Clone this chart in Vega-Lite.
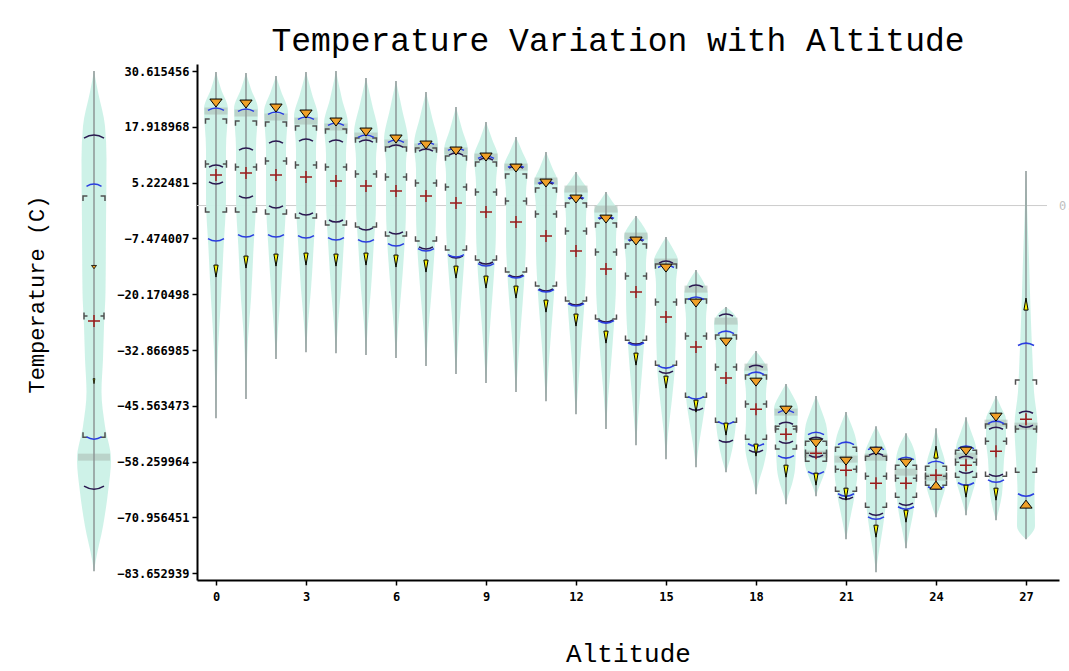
{
"$schema":"https://vega.github.io/schema/vega-lite/v6.json",
"background":"white",
"padding":{"left":25,"top":25,"right":0,"bottom":12},
"autosize":{"type":"pad"},
"spacing":2,
"config":{
 "view":{"stroke":null},
 "axis":{"labelFont":"DejaVu Sans Mono","labelFontSize":12,"labelFontWeight":"bold","labelColor":"#000","tickColor":"#000","domainColor":"#000","domainWidth":2,"tickWidth":1.5,"tickSize":5,"grid":false,"titleFont":"Liberation Mono","titleFontWeight":"normal","titleColor":"#000"}
},
"datasets":{
"stats":[
{"alt":0,"max":30.39,"min":-48.37,"orange":23.33,"blueU":22.19,"q3":19.69,"med":9.45,"mean":6.94,"q1":-1.48,"blueL":-8.08,"yellow":-14.91,"purU":9.22,"purL":4.89,"band":21.51,"skew":"neg"},
{"alt":1,"max":30.16,"min":-44.04,"orange":23.10,"blueU":21.97,"q3":19.23,"med":8.76,"mean":7.40,"q1":-1.48,"blueL":-7.17,"yellow":-12.86,"purU":13.09,"purL":1.71,"band":21.06,"skew":"neg"},
{"alt":2,"max":29.48,"min":-34.94,"orange":22.19,"blueU":21.28,"q3":19.01,"med":10.13,"mean":6.94,"q1":-1.94,"blueL":-7.17,"yellow":-12.41,"purU":14.68,"purL":-0.57,"band":20.14,"skew":"neg"},
{"alt":3,"max":30.39,"min":-33.35,"orange":20.83,"blueU":20.14,"q3":18.10,"med":9.22,"mean":6.49,"q1":-2.85,"blueL":-7.40,"yellow":-12.18,"purU":15.14,"purL":-2.16,"band":19.23,"skew":"neg"},
{"alt":4,"max":30.62,"min":-33.58,"orange":19.01,"blueU":18.78,"q3":17.41,"med":8.76,"mean":5.58,"q1":-4.44,"blueL":-7.85,"yellow":-12.41,"purU":14.91,"purL":-3.76,"band":17.87,"skew":"neg"},
{"alt":5,"max":29.02,"min":-34.03,"orange":16.73,"blueU":16.05,"q3":15.37,"med":7.17,"mean":4.44,"q1":-4.90,"blueL":-8.31,"yellow":-12.18,"purU":14.91,"purL":-5.58,"band":15.82,"skew":"neg"},
{"alt":6,"max":28.34,"min":-34.71,"orange":15.14,"blueU":14.91,"q3":13.32,"med":6.49,"mean":3.30,"q1":-6.94,"blueL":-9.22,"yellow":-12.63,"purU":13.77,"purL":-6.49,"band":14.23,"skew":"neg"},
{"alt":7,"max":25.83,"min":-36.53,"orange":13.77,"blueU":14.45,"q3":13.09,"med":5.12,"mean":2.16,"q1":-8.08,"blueL":-10.36,"yellow":-13.77,"purU":12.86,"purL":-9.90,"band":13.32,"skew":"neg"},
{"alt":8,"max":22.42,"min":-38.35,"orange":12.41,"blueU":13.09,"q3":11.27,"med":4.21,"mean":0.57,"q1":-10.13,"blueL":-11.72,"yellow":-15.14,"purU":11.95,"purL":-11.95,"band":12.41,"skew":"neg"},
{"alt":9,"max":19.01,"min":-40.40,"orange":11.04,"blueU":11.27,"q3":9.90,"med":3.07,"mean":-1.48,"q1":-12.41,"blueL":-13.77,"yellow":-17.41,"purU":10.81,"purL":-13.32,"band":11.04,"skew":"neg"},
{"alt":10,"max":15.59,"min":-42.45,"orange":8.53,"blueU":9.22,"q3":7.17,"med":1.02,"mean":-3.76,"q1":-15.14,"blueL":-16.50,"yellow":-19.69,"purU":8.99,"purL":-16.28,"band":8.76,"skew":"neg"},
{"alt":11,"max":12.18,"min":-44.50,"orange":5.12,"blueU":5.58,"q3":3.98,"med":-1.94,"mean":-6.94,"q1":-18.33,"blueL":-19.69,"yellow":-22.88,"purU":5.35,"purL":-19.46,"band":5.58,"skew":"neg"},
{"alt":12,"max":7.62,"min":-47.46,"orange":1.48,"blueU":2.16,"q3":0.57,"med":-5.81,"mean":-10.36,"q1":-21.74,"blueL":-22.88,"yellow":-26.06,"purU":1.93,"purL":-22.65,"band":3.75,"skew":"neg"},
{"alt":13,"max":3.07,"min":-50.87,"orange":-3.08,"blueU":-2.39,"q3":-3.98,"med":-10.59,"mean":-14.46,"q1":-25.84,"blueL":-26.75,"yellow":-29.93,"purU":-2.62,"purL":-26.52,"band":-0.80,"skew":"neg"},
{"alt":14,"max":-2.39,"min":-54.52,"orange":-8.08,"blueU":-7.40,"q3":-8.77,"med":-16.05,"mean":-19.69,"q1":-30.62,"blueL":-31.76,"yellow":-34.94,"purU":-7.63,"purL":-31.53,"band":-6.94,"skew":"neg"},
{"alt":15,"max":-7.17,"min":-57.70,"orange":-14.23,"blueU":-13.55,"q3":-13.32,"med":-21.97,"mean":-25.38,"q1":-36.31,"blueL":-36.99,"yellow":-40.18,"purU":-12.63,"purL":-38.13,"band":-12.86,"skew":"neg"},
{"alt":16,"max":-14.68,"min":-59.53,"orange":-22.19,"blueU":-20.83,"q3":-21.28,"med":-29.70,"mean":-32.21,"q1":-43.59,"blueL":-44.04,"yellow":-45.64,"purU":-18.10,"purL":-46.55,"band":-19.01,"skew":"neg"},
{"alt":17,"max":-23.10,"min":-60.66,"orange":-31.07,"blueU":-28.57,"q3":-29.48,"med":-36.76,"mean":-39.26,"q1":-49.28,"blueL":-49.73,"yellow":-50.87,"purU":-24.70,"purL":-53.83,"band":-26.29,"skew":"neg"},
{"alt":18,"max":-33.12,"min":-65.67,"orange":-40.18,"blueU":-37.90,"q3":-38.58,"med":-45.18,"mean":-46.32,"q1":-53.15,"blueL":-54.74,"yellow":-55.65,"purU":-36.31,"purL":-56.11,"band":-36.76,"skew":"neg"},
{"alt":19,"max":-40.63,"min":-67.94,"orange":-46.55,"blueU":-46.55,"q3":-50.19,"med":-50.87,"mean":-52.01,"q1":-55.42,"blueL":-57.47,"yellow":-60.44,"purU":-49.28,"purL":-54.06,"band":-47.00,"skew":"neg"},
{"alt":20,"max":-43.36,"min":-66.12,"orange":-54.06,"blueU":-51.56,"q3":-53.61,"med":-56.34,"mean":-56.34,"q1":-58.16,"blueL":-61.11,"yellow":-62.25,"purU":-52.70,"purL":-57.25,"band":-56.56,"skew":"neg"},
{"alt":21,"max":-47.00,"min":-75.91,"orange":-58.16,"blueU":-53.83,"q3":-54.98,"med":-59.98,"mean":-60.21,"q1":-64.99,"blueL":-66.12,"yellow":-65.67,"purU":null,"purL":-66.80,"band":-57.70,"skew":"neg"},
{"alt":22,"max":-50.19,"min":-83.43,"orange":-55.88,"blueU":-54.98,"q3":-57.02,"med":-61.57,"mean":-63.17,"q1":-68.63,"blueL":-71.36,"yellow":-74.09,"purU":-56.34,"purL":-70.45,"band":-57.25,"skew":"neg"},
{"alt":23,"max":-51.79,"min":-77.96,"orange":-58.61,"blueU":-57.25,"q3":-59.07,"med":-62.03,"mean":-63.17,"q1":-66.35,"blueL":-69.08,"yellow":-70.68,"purU":null,"purL":-68.17,"band":-60.66,"skew":"neg"},
{"alt":24,"max":-50.65,"min":-70.90,"orange":-63.62,"blueU":-58.16,"q3":-59.30,"med":-61.57,"mean":-61.34,"q1":-63.62,"blueL":-64.53,"yellow":-56.11,"purU":null,"purL":null,"band":-61.80,"skew":"pos"},
{"alt":25,"max":-48.14,"min":-70.45,"orange":-55.88,"blueU":-54.74,"q3":-55.65,"med":-58.39,"mean":-59.07,"q1":-61.80,"blueL":-63.62,"yellow":-64.99,"purU":-57.02,"purL":-60.89,"band":-57.02,"skew":"neg"},
{"alt":26,"max":-43.36,"min":-71.59,"orange":-48.14,"blueU":-49.05,"q3":-49.73,"med":-53.61,"mean":-55.88,"q1":-61.57,"blueL":-62.94,"yellow":-65.67,"purU":-50.42,"purL":-61.57,"band":-49.51,"skew":"neg"},
{"alt":27,"max":7.85,"min":-75.91,"orange":-67.94,"blueU":-31.30,"q3":-39.72,"med":-50.87,"mean":-48.60,"q1":-60.66,"blueL":-66.12,"yellow":-22.42,"purU":-46.78,"purL":-50.42,"band":-50.19,"skew":"pos"}
],
"overall":[
{"max":30.62,"min":-83.20,"orange":-14.00,"blueU":4.89,"q3":2.16,"med":-25.15,"mean":-26.29,"q1":-52.70,"blueL":-53.15,"yellow":-39.95,"purU":16.05,"purL":-64.53,"band":-57.25}
],
"overallViolin":[
{"t":30.62,"lo":0,"hi":0},{"t":25.83,"lo":-0.2,"hi":0.2},{"t":18.10,"lo":-0.55,"hi":0.55},{"t":10.58,"lo":-0.625,"hi":0.625},{"t":-4.67,"lo":-0.6,"hi":0.6},{"t":-19.69,"lo":-0.575,"hi":0.575},{"t":-27.43,"lo":-0.5,"hi":0.5},{"t":-34.94,"lo":-0.45,"hi":0.45},{"t":-42.45,"lo":-0.375,"hi":0.375},{"t":-50.19,"lo":-0.55,"hi":0.55},{"t":-57.70,"lo":-0.85,"hi":0.85},{"t":-65.21,"lo":-0.7,"hi":0.7},{"t":-72.95,"lo":-0.45,"hi":0.45},{"t":-80.46,"lo":-0.1,"hi":0.1},{"t":-83.20,"lo":0,"hi":0}
],
"violin":[
{"a":0,"t":30.39,"lo":0,"hi":0},{"a":0,"t":26.52,"lo":-0.167,"hi":0.167},{"a":0,"t":21.97,"lo":-0.4,"hi":0.4},{"a":0,"t":12.86,"lo":-0.333,"hi":0.333},{"a":0,"t":1.48,"lo":-0.333,"hi":0.333},{"a":0,"t":-9.90,"lo":-0.25,"hi":0.25},{"a":0,"t":-21.28,"lo":-0.167,"hi":0.167},{"a":0,"t":-32.66,"lo":-0.067,"hi":0.067},{"a":0,"t":-48.37,"lo":0,"hi":0},
{"a":1,"t":30.16,"lo":1,"hi":1},{"a":1,"t":26.52,"lo":0.833,"hi":1.167},{"a":1,"t":21.97,"lo":0.6,"hi":1.4},{"a":1,"t":12.86,"lo":0.667,"hi":1.333},{"a":1,"t":1.48,"lo":0.667,"hi":1.333},{"a":1,"t":-9.90,"lo":0.75,"hi":1.25},{"a":1,"t":-21.28,"lo":0.833,"hi":1.167},{"a":1,"t":-30.39,"lo":0.933,"hi":1.067},{"a":1,"t":-44.04,"lo":1,"hi":1},
{"a":2,"t":29.48,"lo":2,"hi":2},{"a":2,"t":26.06,"lo":1.833,"hi":2.167},{"a":2,"t":21.28,"lo":1.6,"hi":2.4},{"a":2,"t":12.86,"lo":1.667,"hi":2.333},{"a":2,"t":1.48,"lo":1.667,"hi":2.333},{"a":2,"t":-9.90,"lo":1.75,"hi":2.25},{"a":2,"t":-19.01,"lo":1.833,"hi":2.167},{"a":2,"t":-28.11,"lo":1.933,"hi":2.067},{"a":2,"t":-34.94,"lo":2,"hi":2},
{"a":3,"t":30.39,"lo":3,"hi":3},{"a":3,"t":25.38,"lo":2.8,"hi":3.2},{"a":3,"t":20.14,"lo":2.6,"hi":3.4},{"a":3,"t":12.86,"lo":2.667,"hi":3.333},{"a":3,"t":1.48,"lo":2.667,"hi":3.333},{"a":3,"t":-9.90,"lo":2.75,"hi":3.25},{"a":3,"t":-19.01,"lo":2.833,"hi":3.167},{"a":3,"t":-26.97,"lo":2.933,"hi":3.067},{"a":3,"t":-33.35,"lo":3,"hi":3},
{"a":4,"t":30.62,"lo":4,"hi":4},{"a":4,"t":24.24,"lo":3.8,"hi":4.2},{"a":4,"t":18.55,"lo":3.6,"hi":4.4},{"a":4,"t":11.72,"lo":3.667,"hi":4.333},{"a":4,"t":1.48,"lo":3.667,"hi":4.333},{"a":4,"t":-9.90,"lo":3.75,"hi":4.25},{"a":4,"t":-19.01,"lo":3.833,"hi":4.167},{"a":4,"t":-26.97,"lo":3.933,"hi":4.067},{"a":4,"t":-33.58,"lo":4,"hi":4},
{"a":5,"t":29.02,"lo":5,"hi":5},{"a":5,"t":23.10,"lo":4.8,"hi":5.2},{"a":5,"t":16.28,"lo":4.6,"hi":5.4},{"a":5,"t":10.58,"lo":4.667,"hi":5.333},{"a":5,"t":0.34,"lo":4.667,"hi":5.333},{"a":5,"t":-9.90,"lo":4.75,"hi":5.25},{"a":5,"t":-19.01,"lo":4.833,"hi":5.167},{"a":5,"t":-26.97,"lo":4.933,"hi":5.067},{"a":5,"t":-34.03,"lo":5,"hi":5},
{"a":6,"t":28.34,"lo":6,"hi":6},{"a":6,"t":21.97,"lo":5.8,"hi":6.2},{"a":6,"t":14.68,"lo":5.6,"hi":6.4},{"a":6,"t":9.45,"lo":5.667,"hi":6.333},{"a":6,"t":-0.80,"lo":5.667,"hi":6.333},{"a":6,"t":-11.04,"lo":5.733,"hi":6.267},{"a":6,"t":-20.15,"lo":5.833,"hi":6.167},{"a":6,"t":-28.11,"lo":5.933,"hi":6.067},{"a":6,"t":-34.71,"lo":6,"hi":6},
{"a":7,"t":25.83,"lo":7,"hi":7},{"a":7,"t":20.14,"lo":6.8,"hi":7.2},{"a":7,"t":13.77,"lo":6.6,"hi":7.4},{"a":7,"t":8.31,"lo":6.667,"hi":7.333},{"a":7,"t":-1.94,"lo":6.667,"hi":7.333},{"a":7,"t":-12.18,"lo":6.733,"hi":7.267},{"a":7,"t":-21.28,"lo":6.833,"hi":7.167},{"a":7,"t":-29.25,"lo":6.933,"hi":7.067},{"a":7,"t":-36.53,"lo":7,"hi":7},
{"a":8,"t":22.42,"lo":8,"hi":8},{"a":8,"t":17.41,"lo":7.8,"hi":8.2},{"a":8,"t":12.41,"lo":7.6,"hi":8.4},{"a":8,"t":7.17,"lo":7.667,"hi":8.333},{"a":8,"t":-3.08,"lo":7.667,"hi":8.333},{"a":8,"t":-13.32,"lo":7.733,"hi":8.267},{"a":8,"t":-22.42,"lo":7.833,"hi":8.167},{"a":8,"t":-31.53,"lo":7.933,"hi":8.067},{"a":8,"t":-38.35,"lo":8,"hi":8},
{"a":9,"t":19.01,"lo":9,"hi":9},{"a":9,"t":15.14,"lo":8.8,"hi":9.2},{"a":9,"t":11.04,"lo":8.6,"hi":9.4},{"a":9,"t":4.89,"lo":8.667,"hi":9.333},{"a":9,"t":-5.35,"lo":8.667,"hi":9.333},{"a":9,"t":-15.59,"lo":8.733,"hi":9.267},{"a":9,"t":-24.70,"lo":8.833,"hi":9.167},{"a":9,"t":-33.80,"lo":8.933,"hi":9.067},{"a":9,"t":-40.40,"lo":9,"hi":9},
{"a":10,"t":15.59,"lo":10,"hi":10},{"a":10,"t":12.41,"lo":9.8,"hi":10.2},{"a":10,"t":8.76,"lo":9.6,"hi":10.4},{"a":10,"t":2.62,"lo":9.667,"hi":10.333},{"a":10,"t":-7.63,"lo":9.667,"hi":10.333},{"a":10,"t":-17.87,"lo":9.733,"hi":10.267},{"a":10,"t":-26.97,"lo":9.833,"hi":10.167},{"a":10,"t":-36.08,"lo":9.933,"hi":10.067},{"a":10,"t":-42.45,"lo":10,"hi":10},
{"a":11,"t":12.18,"lo":11,"hi":11},{"a":11,"t":8.76,"lo":10.8,"hi":11.2},{"a":11,"t":5.12,"lo":10.6,"hi":11.4},{"a":11,"t":-0.80,"lo":10.667,"hi":11.333},{"a":11,"t":-9.90,"lo":10.667,"hi":11.333},{"a":11,"t":-20.15,"lo":10.733,"hi":11.267},{"a":11,"t":-29.25,"lo":10.833,"hi":11.167},{"a":11,"t":-38.35,"lo":10.933,"hi":11.067},{"a":11,"t":-44.50,"lo":11,"hi":11},
{"a":12,"t":7.62,"lo":12,"hi":12},{"a":12,"t":5.58,"lo":11.8,"hi":12.2},{"a":12,"t":3.30,"lo":11.6,"hi":12.4},{"a":12,"t":-3.08,"lo":11.667,"hi":12.333},{"a":12,"t":-13.32,"lo":11.667,"hi":12.333},{"a":12,"t":-23.56,"lo":11.733,"hi":12.267},{"a":12,"t":-32.66,"lo":11.833,"hi":12.167},{"a":12,"t":-41.77,"lo":11.933,"hi":12.067},{"a":12,"t":-47.46,"lo":12,"hi":12},
{"a":13,"t":3.07,"lo":13,"hi":13},{"a":13,"t":1.02,"lo":12.8,"hi":13.2},{"a":13,"t":-1.25,"lo":12.6,"hi":13.4},{"a":13,"t":-7.63,"lo":12.667,"hi":13.333},{"a":13,"t":-17.87,"lo":12.667,"hi":13.333},{"a":13,"t":-26.97,"lo":12.733,"hi":13.267},{"a":13,"t":-36.08,"lo":12.833,"hi":13.167},{"a":13,"t":-44.04,"lo":12.933,"hi":13.067},{"a":13,"t":-50.87,"lo":13,"hi":13},
{"a":14,"t":-2.39,"lo":14,"hi":14},{"a":14,"t":-4.21,"lo":13.8,"hi":14.2},{"a":14,"t":-7.17,"lo":13.6,"hi":14.4},{"a":14,"t":-13.32,"lo":13.667,"hi":14.333},{"a":14,"t":-21.28,"lo":13.667,"hi":14.333},{"a":14,"t":-31.53,"lo":13.733,"hi":14.267},{"a":14,"t":-40.63,"lo":13.833,"hi":14.167},{"a":14,"t":-48.60,"lo":13.933,"hi":14.067},{"a":14,"t":-54.52,"lo":14,"hi":14},
{"a":15,"t":-7.17,"lo":15,"hi":15},{"a":15,"t":-9.45,"lo":14.8,"hi":15.2},{"a":15,"t":-12.63,"lo":14.6,"hi":15.4},{"a":15,"t":-17.87,"lo":14.667,"hi":15.333},{"a":15,"t":-25.84,"lo":14.667,"hi":15.333},{"a":15,"t":-36.08,"lo":14.7,"hi":15.3},{"a":15,"t":-44.04,"lo":14.8,"hi":15.2},{"a":15,"t":-52.01,"lo":14.933,"hi":15.067},{"a":15,"t":-57.70,"lo":15,"hi":15},
{"a":16,"t":-14.68,"lo":16,"hi":16},{"a":16,"t":-17.19,"lo":15.767,"hi":16.233},{"a":16,"t":-20.37,"lo":15.6,"hi":16.4},{"a":16,"t":-25.84,"lo":15.667,"hi":16.333},{"a":16,"t":-33.80,"lo":15.667,"hi":16.333},{"a":16,"t":-42.91,"lo":15.667,"hi":16.333},{"a":16,"t":-48.60,"lo":15.767,"hi":16.233},{"a":16,"t":-54.29,"lo":15.9,"hi":16.1},{"a":16,"t":-59.53,"lo":16,"hi":16},
{"a":17,"t":-23.10,"lo":17,"hi":17},{"a":17,"t":-24.70,"lo":16.733,"hi":17.267},{"a":17,"t":-26.97,"lo":16.6,"hi":17.4},{"a":17,"t":-32.66,"lo":16.667,"hi":17.333},{"a":17,"t":-40.63,"lo":16.667,"hi":17.333},{"a":17,"t":-48.60,"lo":16.667,"hi":17.333},{"a":17,"t":-53.15,"lo":16.733,"hi":17.267},{"a":17,"t":-57.70,"lo":16.867,"hi":17.133},{"a":17,"t":-60.66,"lo":17,"hi":17},
{"a":18,"t":-33.12,"lo":18,"hi":18},{"a":18,"t":-34.94,"lo":17.8,"hi":18.2},{"a":18,"t":-37.67,"lo":17.6,"hi":18.4},{"a":18,"t":-42.91,"lo":17.667,"hi":18.333},{"a":18,"t":-48.60,"lo":17.667,"hi":18.333},{"a":18,"t":-54.29,"lo":17.633,"hi":18.367},{"a":18,"t":-58.84,"lo":17.733,"hi":18.267},{"a":18,"t":-62.71,"lo":17.9,"hi":18.1},{"a":18,"t":-65.67,"lo":18,"hi":18},
{"a":19,"t":-40.63,"lo":19,"hi":19},{"a":19,"t":-42.91,"lo":18.8,"hi":19.2},{"a":19,"t":-46.32,"lo":18.6,"hi":19.4},{"a":19,"t":-50.87,"lo":18.633,"hi":19.367},{"a":19,"t":-55.42,"lo":18.667,"hi":19.333},{"a":19,"t":-59.98,"lo":18.7,"hi":19.3},{"a":19,"t":-63.39,"lo":18.8,"hi":19.2},{"a":19,"t":-66.12,"lo":18.933,"hi":19.067},{"a":19,"t":-67.94,"lo":19,"hi":19},
{"a":20,"t":-43.36,"lo":20,"hi":20},{"a":20,"t":-46.32,"lo":19.833,"hi":20.167},{"a":20,"t":-50.87,"lo":19.633,"hi":20.367},{"a":20,"t":-55.42,"lo":19.6,"hi":20.4},{"a":20,"t":-58.84,"lo":19.633,"hi":20.367},{"a":20,"t":-61.80,"lo":19.767,"hi":20.233},{"a":20,"t":-64.07,"lo":19.9,"hi":20.1},{"a":20,"t":-66.12,"lo":20,"hi":20},
{"a":21,"t":-47.00,"lo":21,"hi":21},{"a":21,"t":-49.73,"lo":20.833,"hi":21.167},{"a":21,"t":-53.15,"lo":20.667,"hi":21.333},{"a":21,"t":-57.70,"lo":20.6,"hi":21.4},{"a":21,"t":-62.25,"lo":20.633,"hi":21.367},{"a":21,"t":-66.80,"lo":20.733,"hi":21.267},{"a":21,"t":-70.22,"lo":20.833,"hi":21.167},{"a":21,"t":-73.63,"lo":20.933,"hi":21.067},{"a":21,"t":-75.91,"lo":21,"hi":21},
{"a":22,"t":-50.19,"lo":22,"hi":22},{"a":22,"t":-53.15,"lo":21.8,"hi":22.2},{"a":22,"t":-56.56,"lo":21.633,"hi":22.367},{"a":22,"t":-61.11,"lo":21.667,"hi":22.333},{"a":22,"t":-66.80,"lo":21.667,"hi":22.333},{"a":22,"t":-71.36,"lo":21.733,"hi":22.267},{"a":22,"t":-75.91,"lo":21.833,"hi":22.167},{"a":22,"t":-80.01,"lo":21.933,"hi":22.067},{"a":22,"t":-83.43,"lo":22,"hi":22},
{"a":23,"t":-51.79,"lo":23,"hi":23},{"a":23,"t":-54.29,"lo":22.8,"hi":23.2},{"a":23,"t":-57.70,"lo":22.667,"hi":23.333},{"a":23,"t":-62.25,"lo":22.633,"hi":23.367},{"a":23,"t":-66.80,"lo":22.7,"hi":23.3},{"a":23,"t":-70.22,"lo":22.767,"hi":23.233},{"a":23,"t":-73.63,"lo":22.867,"hi":23.133},{"a":23,"t":-75.91,"lo":22.933,"hi":23.067},{"a":23,"t":-77.96,"lo":23,"hi":23},
{"a":24,"t":-50.65,"lo":24,"hi":24},{"a":24,"t":-54.29,"lo":23.867,"hi":24.133},{"a":24,"t":-58.16,"lo":23.7,"hi":24.3},{"a":24,"t":-61.57,"lo":23.65,"hi":24.35},{"a":24,"t":-64.53,"lo":23.7,"hi":24.3},{"a":24,"t":-66.80,"lo":23.8,"hi":24.2},{"a":24,"t":-69.08,"lo":23.9,"hi":24.1},{"a":24,"t":-70.90,"lo":24,"hi":24},
{"a":25,"t":-48.14,"lo":25,"hi":25},{"a":25,"t":-51.33,"lo":24.833,"hi":25.167},{"a":25,"t":-54.98,"lo":24.667,"hi":25.333},{"a":25,"t":-58.84,"lo":24.633,"hi":25.367},{"a":25,"t":-62.25,"lo":24.667,"hi":25.333},{"a":25,"t":-65.67,"lo":24.8,"hi":25.2},{"a":25,"t":-67.94,"lo":24.9,"hi":25.1},{"a":25,"t":-70.45,"lo":25,"hi":25},
{"a":26,"t":-43.36,"lo":26,"hi":26},{"a":26,"t":-45.87,"lo":25.833,"hi":26.167},{"a":26,"t":-48.60,"lo":25.667,"hi":26.333},{"a":26,"t":-53.15,"lo":25.667,"hi":26.333},{"a":26,"t":-57.70,"lo":25.733,"hi":26.267},{"a":26,"t":-62.25,"lo":25.767,"hi":26.233},{"a":26,"t":-65.67,"lo":25.8,"hi":26.2},{"a":26,"t":-69.08,"lo":25.9,"hi":26.1},{"a":26,"t":-71.59,"lo":26,"hi":26},
{"a":27,"t":7.85,"lo":27,"hi":27},{"a":27,"t":-3.08,"lo":26.95,"hi":27.05},{"a":27,"t":-12.18,"lo":26.9,"hi":27.1},{"a":27,"t":-23.56,"lo":26.85,"hi":27.15},{"a":27,"t":-34.94,"lo":26.783,"hi":27.217},{"a":27,"t":-42.45,"lo":26.733,"hi":27.267},{"a":27,"t":-50.19,"lo":26.617,"hi":27.383},{"a":27,"t":-57.70,"lo":26.667,"hi":27.333},{"a":27,"t":-65.21,"lo":26.717,"hi":27.283},{"a":27,"t":-72.95,"lo":26.7,"hi":27.3},{"a":27,"t":-74.77,"lo":26.833,"hi":27.167},{"a":27,"t":-75.91,"lo":27,"hi":27}
]
},
"hconcat":[
{
 "width":40,"height":516,
 "layer":[
  {"data":{"name":"overallViolin"},"mark":{"type":"area","orient":"horizontal","fill":"#cbf1e7","opacity":0.95,"interpolate":"monotone"},
   "encoding":{"y":{"field":"t","type":"quantitative","scale":{"domain":[-85.2,32.21],"nice":false,"zero":false},"axis":{"title":"Temperature (C)","labels":false,"ticks":false,"domain":false,"titleFontSize":22,"titlePadding":26,"titleY":230}},
    "x":{"field":"lo","type":"quantitative","scale":{"domain":[-1,1]},"axis":null},"x2":{"field":"hi"}}},
  {"data":{"name":"overall"},"mark":{"type":"tick","orient":"horizontal","color":"#a9b9b1","opacity":0.55,"thickness":7,"size":32},
   "encoding":{"y":{"field":"band","type":"quantitative"},"x":{"datum":0,"type":"quantitative","axis":null}}},
  {"data":{"name":"overall"},"mark":{"type":"rule","color":"#8c9696","strokeWidth":1.5},
   "encoding":{"y":{"field":"min","type":"quantitative"},"y2":{"field":"max"},"x":{"datum":0,"type":"quantitative","axis":null}}},
  {"data":{"name":"overall"},"mark":{"type":"point","shape":"M-1,0.45L-1,0L-0.6,0M0.6,0L1,0L1,0.45","filled":false,"stroke":"#505050","strokeWidth":1.5,"size":484,"opacity":1},
   "encoding":{"y":{"field":"q3","type":"quantitative"},"x":{"datum":0,"type":"quantitative","axis":null}}},
  {"data":{"name":"overall"},"mark":{"type":"point","shape":"M-1,-0.45L-1,0L-0.6,0M0.6,0L1,0L1,-0.45","filled":false,"stroke":"#505050","strokeWidth":1.5,"size":484,"opacity":1},
   "encoding":{"y":{"field":"q1","type":"quantitative"},"x":{"datum":0,"type":"quantitative","axis":null}}},
  {"data":{"name":"overall"},"mark":{"type":"point","shape":"M-1,-0.35L-1,0.35M-1,0L-0.65,0M1,-0.35L1,0.35M1,0L0.65,0","filled":false,"stroke":"#505050","strokeWidth":1.5,"size":400,"opacity":1},
   "encoding":{"y":{"field":"med","type":"quantitative"},"x":{"datum":0,"type":"quantitative","axis":null}}},
  {"data":{"name":"overall"},"mark":{"type":"point","shape":"M-1,0.3Q0,-0.3 1,0.3","filled":false,"stroke":"#2a1850","strokeWidth":1.5,"size":400,"opacity":1},
   "encoding":{"y":{"field":"purU","type":"quantitative"},"x":{"datum":0,"type":"quantitative","axis":null}}},
  {"data":{"name":"overall"},"mark":{"type":"point","shape":"M-1,-0.3Q0,0.3 1,-0.3","filled":false,"stroke":"#2a1850","strokeWidth":1.5,"size":400,"opacity":1},
   "encoding":{"y":{"field":"purL","type":"quantitative"},"x":{"datum":0,"type":"quantitative","axis":null}}},
  {"data":{"name":"overall"},"mark":{"type":"point","shape":"M-1,0.3Q0,-0.3 1,0.3","filled":false,"stroke":"#2b3de0","strokeWidth":1.5,"size":225,"opacity":1},
   "encoding":{"y":{"field":"blueU","type":"quantitative"},"x":{"datum":0,"type":"quantitative","axis":null}}},
  {"data":{"name":"overall"},"mark":{"type":"point","shape":"M-1,-0.3Q0,0.3 1,-0.3","filled":false,"stroke":"#2b3de0","strokeWidth":1.5,"size":225,"opacity":1},
   "encoding":{"y":{"field":"blueL","type":"quantitative"},"x":{"datum":0,"type":"quantitative","axis":null}}},
  {"data":{"name":"overall"},"mark":{"type":"point","shape":"M-1,0L1,0M0,-1L0,1","filled":false,"stroke":"#9b1c1c","strokeWidth":1.5,"size":144,"opacity":1},
   "encoding":{"y":{"field":"mean","type":"quantitative"},"x":{"datum":0,"type":"quantitative","axis":null}}},
  {"data":{"name":"overall"},"mark":{"type":"point","shape":"M-1,-0.65L1,-0.65L0,0.65Z","filled":true,"fill":"#f0a028","stroke":"#000","strokeWidth":0.8,"size":25,"opacity":1},
   "encoding":{"y":{"field":"orange","type":"quantitative"},"x":{"datum":0,"type":"quantitative","axis":null}}},
  {"data":{"name":"overall"},"mark":{"type":"point","shape":"M-0.35,-1L0.35,-1L0,1Z","filled":true,"fill":"#f8f000","stroke":"#000","strokeWidth":0.8,"size":25,"opacity":1},
   "encoding":{"y":{"field":"yellow","type":"quantitative"},"x":{"datum":0,"type":"quantitative","axis":null}}}
 ]
},
{
 "width":862,"height":516,
 "title":{"text":"Temperature Variation with Altitude","font":"Liberation Mono","fontSize":33,"fontWeight":"normal","color":"#000","anchor":"middle","offset":6,"dx":-10},
 "layer":[
  {"data":{"values":[{"t":0}]},"mark":{"type":"rule","color":"#cccccc","strokeWidth":1},
   "encoding":{"y":{"field":"t","type":"quantitative"},"x":{"datum":-0.633,"type":"quantitative"},"x2":{"datum":27.7}}},
  {"data":{"name":"violin"},"mark":{"type":"area","orient":"horizontal","fill":"#cbf1e7","opacity":0.95,"interpolate":"monotone"},
   "encoding":{
    "y":{"field":"t","type":"quantitative","scale":{"domain":[-85.2,32.21],"nice":false,"zero":false},
      "axis":{"title":null,"values":[30.615456,17.918968,5.222481,-7.474007,-20.170498,-32.866985,-45.563473,-58.259964,-70.956451,-83.652939],"format":".6f","labelPadding":3}},
    "x":{"field":"lo","type":"quantitative","scale":{"domain":[-0.633,28.1],"nice":false,"zero":false},
      "axis":{"title":"Altitude","values":[0,3,6,9,12,15,18,21,24,27],"labelPadding":6,"titleFontSize":26,"titlePadding":38}},
    "x2":{"field":"hi"},
    "detail":{"field":"a","type":"nominal"}}},
  {"data":{"name":"stats"},"mark":{"type":"tick","orient":"horizontal","color":"#a9b9b1","opacity":0.55,"thickness":7,"size":23},
   "encoding":{"y":{"field":"band","type":"quantitative"},"x":{"field":"alt","type":"quantitative"}}},
  {"data":{"name":"stats"},"mark":{"type":"rule","color":"#8c9696","strokeWidth":1.5},
   "encoding":{"y":{"field":"min","type":"quantitative"},"y2":{"field":"max"},"x":{"field":"alt","type":"quantitative"}}},
  {"data":{"name":"stats"},"mark":{"type":"point","shape":"M-1,0.45L-1,0L-0.6,0M0.6,0L1,0L1,0.45","filled":false,"stroke":"#505050","strokeWidth":1.5,"size":441,"opacity":1},
   "encoding":{"y":{"field":"q3","type":"quantitative"},"x":{"field":"alt","type":"quantitative"}}},
  {"data":{"name":"stats"},"mark":{"type":"point","shape":"M-1,-0.45L-1,0L-0.6,0M0.6,0L1,0L1,-0.45","filled":false,"stroke":"#505050","strokeWidth":1.5,"size":441,"opacity":1},
   "encoding":{"y":{"field":"q1","type":"quantitative"},"x":{"field":"alt","type":"quantitative"}}},
  {"data":{"name":"stats"},"mark":{"type":"point","shape":"M-1,-0.35L-1,0.35M-1,0L-0.65,0M1,-0.35L1,0.35M1,0L0.65,0","filled":false,"stroke":"#505050","strokeWidth":1.5,"size":441,"opacity":1},
   "encoding":{"y":{"field":"med","type":"quantitative"},"x":{"field":"alt","type":"quantitative"}}},
  {"data":{"name":"stats"},"mark":{"type":"point","shape":"M-1,0.3Q0,-0.3 1,0.3","filled":false,"stroke":"#2a1850","strokeWidth":1.5,"size":196,"opacity":1},
   "encoding":{"y":{"field":"purU","type":"quantitative"},"x":{"field":"alt","type":"quantitative"}}},
  {"data":{"name":"stats"},"mark":{"type":"point","shape":"M-1,-0.3Q0,0.3 1,-0.3","filled":false,"stroke":"#2a1850","strokeWidth":1.5,"size":196,"opacity":1},
   "encoding":{"y":{"field":"purL","type":"quantitative"},"x":{"field":"alt","type":"quantitative"}}},
  {"data":{"name":"stats"},"mark":{"type":"point","shape":"M-1,0.3Q0,-0.3 1,0.3","filled":false,"stroke":"#2b3de0","strokeWidth":1.5,"size":256,"opacity":1},
   "encoding":{"y":{"field":"blueU","type":"quantitative"},"x":{"field":"alt","type":"quantitative"}}},
  {"data":{"name":"stats"},"mark":{"type":"point","shape":"M-1,-0.3Q0,0.3 1,-0.3","filled":false,"stroke":"#2b3de0","strokeWidth":1.5,"size":256,"opacity":1},
   "encoding":{"y":{"field":"blueL","type":"quantitative"},"x":{"field":"alt","type":"quantitative"}}},
  {"data":{"name":"stats"},"mark":{"type":"point","shape":"M-1,0L1,0M0,-1L0,1","filled":false,"stroke":"#9b1c1c","strokeWidth":1.5,"size":144,"opacity":1},
   "encoding":{"y":{"field":"mean","type":"quantitative"},"x":{"field":"alt","type":"quantitative"}}},
  {"data":{"name":"stats"},"mark":{"type":"point","filled":true,"fill":"#f0a028","stroke":"#000","strokeWidth":1,"size":150,"opacity":1},
   "encoding":{"y":{"field":"orange","type":"quantitative"},"x":{"field":"alt","type":"quantitative"},
    "shape":{"condition":{"test":"datum.skew == 'pos'","value":"M-1,0.65L1,0.65L0,-0.65Z"},"value":"M-1,-0.65L1,-0.65L0,0.65Z"}}},
  {"data":{"name":"stats"},"mark":{"type":"point","filled":true,"fill":"#f8f000","stroke":"#000","strokeWidth":1,"size":144,"opacity":1},
   "encoding":{"y":{"field":"yellow","type":"quantitative"},"x":{"field":"alt","type":"quantitative"},
    "shape":{"condition":{"test":"datum.skew == 'pos'","value":"M-0.35,1L0.35,1L0,-1Z"},"value":"M-0.35,-1L0.35,-1L0,1Z"}}},
  {"data":{"values":[{"t":0,"label":"0.0"}]},"mark":{"type":"text","align":"left","dx":0,"font":"DejaVu Sans Mono","fontSize":12,"color":"#c0c0c0"},
   "encoding":{"y":{"field":"t","type":"quantitative"},"x":{"datum":28.1,"type":"quantitative"},"text":{"field":"label"}}}
 ]
}
]
}
